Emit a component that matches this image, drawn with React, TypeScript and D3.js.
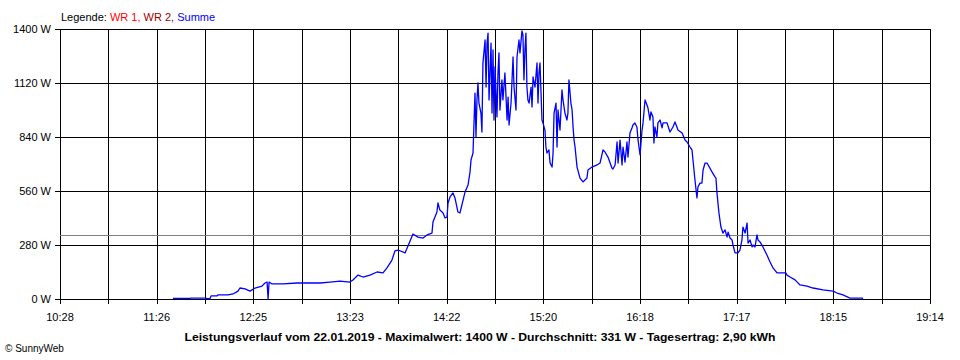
import { useMemo } from 'react';
import { line, scaleLinear } from 'd3';

// minutes since midnight, watts (Summe)
const minutes = [
  696.3, 706.6, 707.2, 715.7, 716.9, 718.7, 719.3, 722.9, 723.5, 729.6, 732.6, 735.6, 736.8, 739.9, 742.9, 745.9,
  750.1, 751.9, 753.2, 753.8, 754.4, 756.2, 762.8, 771.3, 777.3, 785.2, 791.2, 797.3, 803.3, 805.1, 808.2, 811.2,
  815.4, 819.7, 823.3, 825.7, 828.7, 830.5, 832.4, 836.6, 838.4, 841.4, 844.4, 847.5, 849.9, 852.9, 853.5, 855.9,
  856.5, 857.7, 859.6, 860.8, 862.0, 862.6, 863.8, 865.6, 866.8, 868.6, 869.8, 871.7, 872.9, 874.7, 875.9, 876.5,
  877.7, 878.9, 879.5, 880.1, 880.7, 881.3, 882.5, 883.1, 883.7, 885.0, 885.6, 886.2, 886.8, 887.4, 888.6, 889.2,
  889.8, 890.4, 891.0, 892.2, 892.8, 893.4, 894.0, 895.2, 895.8, 897.0, 898.3, 898.9, 899.5, 900.7, 901.9, 902.5,
  903.7, 904.3, 905.5, 906.1, 907.3, 907.9, 908.5, 909.1, 909.7, 910.3, 910.9, 911.6, 912.8, 913.4, 914.0, 915.2,
  916.4, 917.0, 917.6, 918.2, 919.4, 920.0, 921.2, 921.8, 922.4, 923.6, 924.3, 925.5, 926.1, 926.7, 927.9, 928.5,
  929.1, 930.3, 931.5, 932.1, 933.3, 934.5, 935.1, 935.7, 936.9, 937.6, 938.2, 938.8, 939.4, 940.6, 942.4, 944.2,
  946.6, 947.2, 949.6, 952.7, 954.5, 956.3, 957.5, 959.3, 961.7, 962.3, 963.6, 964.8, 965.4, 966.6, 967.8, 968.4,
  969.6, 970.8, 971.4, 972.6, 973.8, 974.4, 975.6, 976.8, 977.5, 978.7, 979.9, 980.5, 981.7, 982.9, 983.5, 984.7,
  985.3, 986.5, 987.1, 987.7, 988.9, 989.5, 990.8, 992.0, 992.6, 995.0, 996.8, 998.6, 999.8, 1001.0, 1001.6, 1004.1,
  1005.9, 1007.1, 1008.9, 1010.1, 1010.7, 1011.9, 1013.1, 1013.7, 1014.9, 1016.1, 1016.8, 1018.0, 1019.2, 1022.2,
  1024.0, 1024.6, 1025.2, 1026.4, 1027.6, 1028.8, 1030.1, 1031.3, 1031.9, 1033.1, 1034.3, 1034.9, 1036.1, 1037.9,
  1039.1, 1040.3, 1040.9, 1042.2, 1043.4, 1044.0, 1045.2, 1046.4, 1047.0, 1048.2, 1049.4, 1050.0, 1051.2, 1053.0,
  1055.4, 1057.3, 1059.1, 1061.5, 1066.9, 1067.5, 1069.4, 1072.4, 1075.4, 1079.6, 1083.3, 1089.3, 1095.4, 1097.8,
  1101.4, 1105.6, 1106.9, 1112.9, 1113.5,
];

const watts = [
  3, 3, 5, 5, 2, 2, 16, 16, 21, 21, 26, 41, 57, 52, 41, 57,
  67, 83, 88, 0, 88, 78, 78, 83, 83, 83, 88, 93, 88, 99, 124, 114,
  124, 140, 135, 161, 202, 249, 254, 239, 275, 337, 321, 316, 332, 342, 399, 451,
  498, 461, 446, 420, 425, 498, 529, 550, 524, 451, 446, 513, 555, 591, 659, 721,
  757, 1068, 840, 1032, 1120, 1016, 964, 866, 1224, 1343, 1099, 1327, 1379, 1032, 1327, 964,
  1291, 928, 1203, 944, 1172, 1276, 980, 1136, 1032, 1172, 928, 1047, 902, 1016, 1255, 1099,
  980, 1255, 1343, 1276, 1390, 1369, 1136, 1291, 1379, 1099, 1032, 1016, 1099, 996, 1151, 1099,
  1224, 1016, 1172, 1224, 928, 913, 876, 788, 757, 773, 705, 684, 757, 964, 1016, 788,
  980, 876, 1084, 1032, 964, 928, 964, 1136, 1016, 980, 892, 824, 788, 684, 627, 607,
  627, 669, 684, 695, 705, 773, 762, 736, 679, 674, 695, 814, 705, 824, 695, 788,
  710, 814, 736, 861, 887, 902, 913, 892, 824, 747, 876, 913, 1032, 1006, 990, 928,
  970, 944, 809, 892, 840, 913, 928, 887, 913, 913, 866, 892, 918, 892, 876, 861,
  824, 814, 788, 773, 721, 617, 524, 581, 601, 601, 669, 705, 705, 659,
  633, 627, 550, 446, 373, 342, 358, 321, 347, 316, 306, 280, 239, 239,
  254, 306, 373, 342, 394, 290, 306, 270, 280, 270, 332, 306, 296, 270,
  228, 192, 161, 135, 135, 124, 114, 99, 73, 67, 57, 47, 41, 31,
  21, 5, 5, 5, 2,
];

const xTickLabels = ['10:28', '11:26', '12:25', '13:23', '14:22', '15:20', '16:18', '17:17', '18:15', '19:14'];
const yTicks = [0, 280, 560, 840, 1120, 1400];
const average = 331;
const startMin = 628;
const endMin = 1154;

const legend = [
  { text: 'Legende: ', color: '#000000' },
  { text: 'WR 1, ', color: '#ff0000' },
  { text: 'WR 2, ', color: '#a00000' },
  { text: 'Summe', color: '#0000ff' },
];

const title =
  'Leistungsverlauf vom 22.01.2019 - Maximalwert: 1400 W - Durchschnitt: 331 W - Tagesertrag: 2,90 kWh';

export default function App() {
  const width = 960;
  const height = 360;
  const margin = { top: 29, right: 30, bottom: 61, left: 60 };
  const font = 'Arial, "Liberation Sans", sans-serif';

  const x = scaleLinear().domain([startMin, endMin]).range([margin.left, width - margin.right]);
  const y = scaleLinear().domain([0, 1400]).range([height - margin.bottom, margin.top]);

  const gridMinutes = useMemo(() => {
    const step = (endMin - startMin) / 18;
    return Array.from({ length: 19 }, (_, i) => startMin + i * step);
  }, []);

  const path = useMemo(() => {
    const pts = minutes.map((m, i) => [m, watts[i]] as [number, number]);
    return line<[number, number]>()
      .x((d) => x(d[0]))
      .y((d) => y(d[1]))(pts);
  }, []);

  const px = (v: number) => Math.round(v) + 0.5;

  return (
    <svg
      width={width}
      height={height}
      style={{ position: 'absolute', left: 0, top: 0, background: '#ffffff' }}
      fontFamily={font}
    >
      <rect x={0} y={0} width={width} height={height} fill="#ffffff" />

      {/* legend */}
      <text x={61} y={21} fontSize={11}>
        {legend.map((l) => (
          <tspan key={l.text} fill={l.color} style={{ whiteSpace: 'pre' }}>
            {l.text}
          </tspan>
        ))}
      </text>

      {/* vertical grid + ticks */}
      {gridMinutes.map((m, i) => (
        <line
          key={`v${i}`}
          x1={px(x(m))}
          x2={px(x(m))}
          y1={y(1400)}
          y2={y(0) + 5}
          stroke="#000"
          strokeWidth={1}
          shapeRendering="crispEdges"
        />
      ))}

      {/* horizontal grid + ticks */}
      {yTicks.map((t) => (
        <g key={`h${t}`}>
          <line
            x1={margin.left - 5}
            x2={width - margin.right}
            y1={px(y(t))}
            y2={px(y(t))}
            stroke="#000"
            strokeWidth={1}
            shapeRendering="crispEdges"
          />
          <text x={51} y={y(t) + 4} fontSize={11} textAnchor="end">
            {`${t} W`}
          </text>
        </g>
      ))}

      {/* average line */}
      <line
        x1={margin.left}
        x2={width - margin.right}
        y1={px(y(average))}
        y2={px(y(average))}
        stroke="#808080"
        strokeWidth={1}
        shapeRendering="crispEdges"
      />

      {/* x labels */}
      {xTickLabels.map((l, i) => (
        <text key={l} x={x(gridMinutes[i * 2])} y={321} fontSize={11} textAnchor="middle">
          {l}
        </text>
      ))}

      <path d={path ?? ''} fill="none" stroke="#0000ff" strokeWidth={1.3} strokeLinejoin="round" />

      <text x={480} y={341} fontSize={11} fontWeight="bold" textAnchor="middle" textLength={591} lengthAdjust="spacingAndGlyphs">
        {title}
      </text>

      <text x={5} y={352} fontSize={10}>
        © SunnyWeb
      </text>
    </svg>
  );
}
